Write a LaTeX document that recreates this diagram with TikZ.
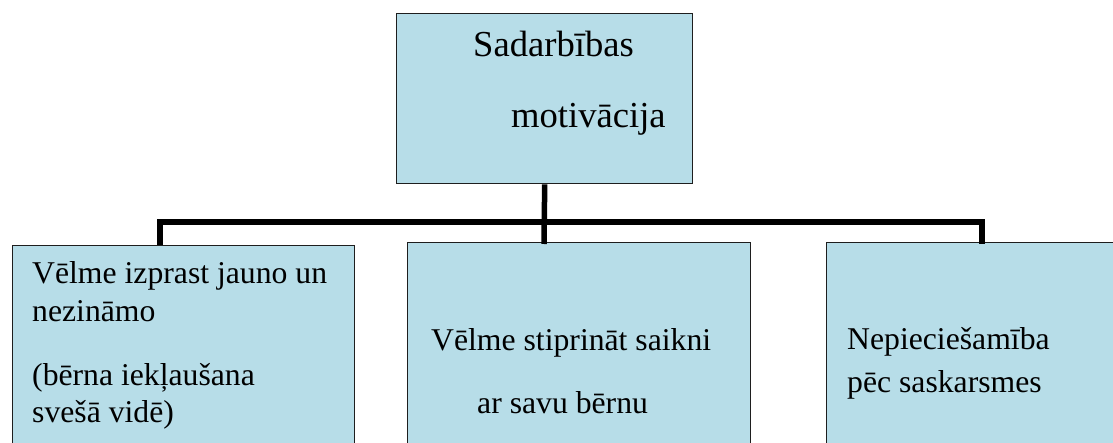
\documentclass[tikz,border=0pt]{standalone}
\usepackage{fontspec}
\setmainfont{Liberation Serif}
\definecolor{boxblue}{RGB}{183,221,232}
\definecolor{boxline}{RGB}{30,30,30}
\begin{document}
\begin{tikzpicture}[x=1pt,y=-1pt,
  box/.style={draw=boxline,line width=1.4pt,fill=boxblue,anchor=north west,inner sep=0pt},
  conn/.style={draw=black,line width=5.5pt,line join=miter},
  txt/.style={anchor=base west,inner sep=0pt,font=\fontsize{31.7}{34}\selectfont},
  bigtxt/.style={anchor=base west,inner sep=0pt,font=\fontsize{36.6}{40}\selectfont}]
\useasboundingbox (0,0) rectangle (1113,443);
\clip (0,0) rectangle (1113,443);
\fill[white] (0,0) rectangle (1113,443);
% boxes
\node[box,minimum width=296pt,minimum height=170pt] (top) at (396,13) {};
\node[box,minimum width=342pt,minimum height=220pt] (left) at (12,245) {};
\node[box,minimum width=343pt,minimum height=220pt] (mid) at (407,242) {};
\node[box,minimum width=320pt,minimum height=220pt] (right) at (826,242) {};
% connectors
\coordinate (mj) at (544,244);
\coordinate (bl) at (160,222);
\coordinate (br) at (982,222);
\coordinate (dl) at (160,245);
\coordinate (dr) at (982,244);
\draw[conn] (top.south) -- (mj);
\draw[conn] (dl) -- (bl) -- (br) -- (dr);
% texts
\node[bigtxt] (t1) at (473,57) {Sadarbības};
\node[bigtxt] (t2) at (511,128) {motivācija};
\node[txt] (l1) at (32,284) {Vēlme izprast jauno un};
\node[txt] (l2) at (32,322) {nezināmo};
\node[txt] (l3) at (32,385) {(bērna iekļaušana};
\node[txt] (l4) at (32,422) {svešā vidē)};
\node[txt] (m1) at (431,350) {Vēlme stiprināt saikni};
\node[txt] (m2) at (477,413) {ar savu bērnu};
\node[txt] (r1) at (847,349) {Nepieciešamība};
\node[txt] (r2) at (847,392) {pēc saskarsmes};
\end{tikzpicture}
\end{document}
